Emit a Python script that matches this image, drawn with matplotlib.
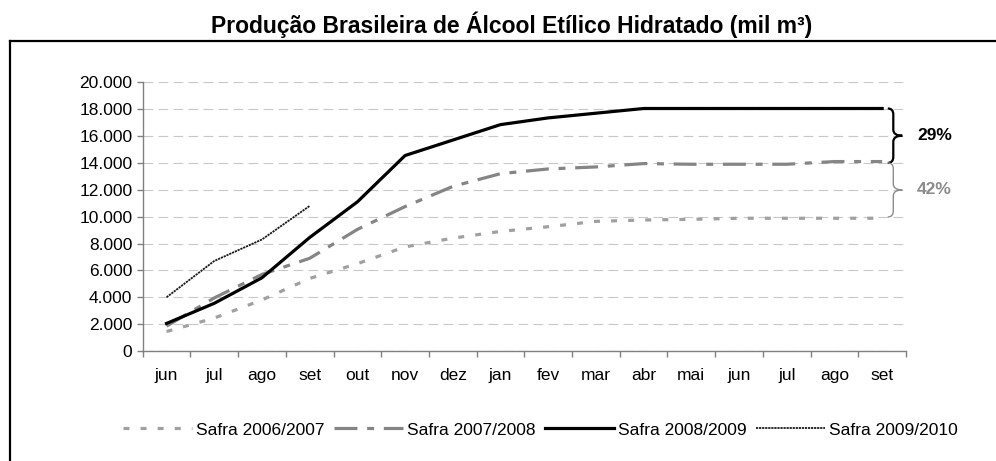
import matplotlib
matplotlib.use("Agg")
import matplotlib.pyplot as plt
from matplotlib.lines import Line2D
from matplotlib.path import Path
from matplotlib.patches import PathPatch
import matplotlib.transforms as mtransforms
from matplotlib.ticker import FuncFormatter, MultipleLocator

plt.rcParams['font.family'] = ['Liberation Sans', 'DejaVu Sans']
plt.rcParams['lines.scale_dashes'] = False

months = ["jun", "jul", "ago", "set", "out", "nov", "dez", "jan", "fev", "mar",
          "abr", "mai", "jun", "jul", "ago", "set"]
safra_0607 = [1450, 2450, 3800, 5400, 6500, 7750, 8400, 8900, 9250, 9650,
              9750, 9800, 9880, 9880, 9880, 9880]
safra_0708 = [1850, 3950, 5700, 6900, 9050, 10750, 12250, 13200, 13550, 13700,
              13950, 13900, 13900, 13900, 14100, 14100]
safra_0809 = [2050, 3550, 5450, 8450, 11100, 14550, 15700, 16850, 17350, 17700,
              18050, 18050, 18050, 18050, 18050, 18050]
safra_0910 = [4000, 6700, 8300, 10800]
series_names = ["Safra 2006/2007", "Safra 2007/2008", "Safra 2008/2009", "Safra 2009/2010"]
pct_labels = ["29%", "42%"]

FS = 12.5
fig = plt.figure(figsize=(9.96, 4.61), dpi=100)
W, H = 996, 461
ax = fig.add_axes([142.7 / W, 1 - 351 / H, (906 - 142.7) / W, (351 - 82.3) / H])

x_all = [i for i in range(len(months))]
ax.plot(x_all, safra_0607, color="#a0a0a0", lw=2.3, ls=(0, (4.3, 8.0)),
        dash_capstyle="butt", label=series_names[0], zorder=3)
ax.plot(x_all, safra_0708, color="#858585", lw=2.3, ls=(0, (16.5, 7, 5, 7)),
        dash_capstyle="butt", label=series_names[1], zorder=3)
ax.plot(x_all, safra_0809, color="#000000", lw=2.3, ls="-",
        label=series_names[2], zorder=4)
ax.plot(x_all[:len(safra_0910)], safra_0910, color="#1a1a1a", lw=1.3,
        ls=(0, (1.6, 0.6)), label=series_names[3], zorder=4)

ax.set_xlim(-0.5, len(months) - 0.5)
ax.set_ylim(0, 20000)
ax.yaxis.set_major_locator(MultipleLocator(2000))
ax.yaxis.set_major_formatter(FuncFormatter(lambda v, p: f"{v:,.0f}".replace(",", ".")))
ax.set_xticks(x_all)
ax.set_xticklabels(months)
ax.set_xticks([i - 0.5 for i in range(len(months) + 1)], minor=True)
ax.tick_params(axis="x", which="major", length=0, pad=12, labelsize=FS)
ax.tick_params(axis="x", which="minor", length=4, width=1, color="#808080", direction="out")
ax.tick_params(axis="y", length=4.5, width=1, color="#808080", direction="out",
               pad=3, labelsize=FS)

for s in ["top", "right"]:
    ax.spines[s].set_visible(False)
for s in ["left", "bottom"]:
    ax.spines[s].set_color("#808080")
    ax.spines[s].set_linewidth(1)

ax.yaxis.grid(True, color="#c8c8c8", lw=0.8, ls=(0, (7, 3.8)))
ax.set_axisbelow(True)

# braces
trans = mtransforms.blended_transform_factory(ax.transAxes, ax.transData)
def brace(y_top, y_bot, color, lw):
    x0 = (893.3 - 142.7) / (906 - 142.7)
    dx = 5.5 / (906 - 142.7)
    tip = 9 / (906 - 142.7)
    r = 450
    ym = (y_top + y_bot) / 2
    verts = [(x0 - dx, y_top), (x0, y_top), (x0, y_top - r),
             (x0, ym + r),
             (x0, ym), (x0 + tip, ym), (x0 + tip, ym), (x0, ym), (x0, ym - r),
             (x0, y_bot + r),
             (x0, y_bot), (x0 - dx, y_bot)]
    codes = [Path.MOVETO, Path.CURVE3, Path.CURVE3,
             Path.LINETO,
             Path.CURVE3, Path.CURVE3, Path.LINETO, Path.CURVE3, Path.CURVE3,
             Path.LINETO,
             Path.CURVE3, Path.CURVE3]
    p = PathPatch(Path(verts, codes), transform=trans, fill=False, ec=color, lw=lw,
                  clip_on=False, zorder=5)
    ax.add_patch(p)
    return ym

top_v = safra_0809[-1]
mid_v = safra_0708[-1]
bot_v = safra_0607[-1]
ym1 = brace(top_v, mid_v - 100, "#000000", 1.6)
ym2 = brace(mid_v - 100, bot_v + 100, "#8c8c8c", 1.0)
tx = (917 - 142.7) / (906 - 142.7)
ax.text(tx, ym1, pct_labels[0], transform=trans, ha="left", va="center",
        fontsize=FS, fontweight="bold", color="#000000")
ax.text(tx, ym2, pct_labels[1], transform=trans, ha="left", va="center",
        fontsize=FS, fontweight="bold", color="#8c8c8c")

fig.text(511.5 / W, 1 - 33 / H, "Produção Brasileira de Álcool Etílico Hidratado (mil m³)",
         ha="center", va="baseline", fontsize=16.5, fontweight="bold")

# outer frame (left and top edges visible)
fig.add_artist(Line2D([10 / W, 10 / W], [0, 1 - 40.7 / H], transform=fig.transFigure,
                      color="black", lw=1.6))
fig.add_artist(Line2D([10 / W, 1.0], [1 - 40.7 / H, 1 - 40.7 / H], transform=fig.transFigure,
                      color="black", lw=1.6, solid_capstyle="projecting"))

handles, labels = ax.get_legend_handles_labels()
fig.legend(handles, labels, loc="center", bbox_to_anchor=(540 / W, 1 - 430 / H),
           ncol=4, frameon=False, fontsize=FS, handlelength=4.0,
           handletextpad=0.2, columnspacing=0.55, borderpad=0, borderaxespad=0)

fig.savefig("out.png", dpi=100)
